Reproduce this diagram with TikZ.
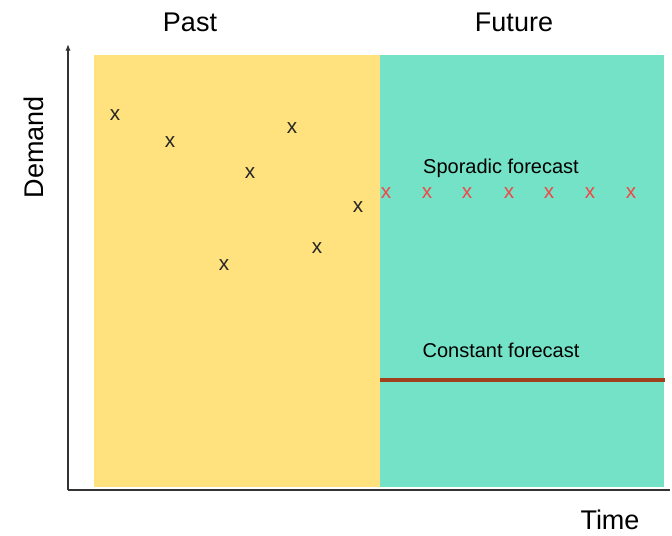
\documentclass[tikz,border=0pt]{standalone}
\usepackage{fontspec}
\setmainfont{Liberation Sans}
\usetikzlibrary{arrows.meta}
\definecolor{pastYel}{HTML}{FFE27E}
\definecolor{futGrn}{HTML}{74E2C6}
\definecolor{fcRed}{HTML}{F04848}
\definecolor{fcBrown}{HTML}{A0401C}
\tikzset{
    lbl/.style={font=\fontsize{20.25}{22}\selectfont, inner sep=0pt},
    fclbl/.style={font=\fontsize{15}{17}\selectfont, inner sep=0pt},
    obs/.style={font=\fontsize{15.5}{17}\selectfont, inner sep=0pt, text=black!85},
    fc/.style={obs, text=fcRed},
    axis/.style={line width=1.2pt, black!80}
}

\begin{document}
\begin{tikzpicture}[x=0.75pt,y=-0.75pt]
\useasboundingbox (0,0) rectangle (672,536);
\fill[pastYel] (94,55) rectangle (380,487);
\fill[futGrn] (380,55) rectangle (664,487);
\coordinate (o) at (68,490);
\coordinate (ytop) at (68,44);
\coordinate (xend) at (670,490);
\draw[axis,-{Latex[length=5pt,width=4pt]}] (o) -- (ytop);
\draw[axis] (o) -- (xend);
\node[lbl] (past) at (190,22) {Past};
\node[lbl] (future) at (514,22) {Future};
\node[lbl,rotate=90] (demand) at (34,147) {Demand};
\node[lbl] (time) at (610,520) {Time};
% past demand
\node[obs] (p1) at (115,115) {x};
\node[obs] (p2) at (170,142) {x};
\node[obs] (p3) at (224,265) {x};
\node[obs] (p4) at (250,173) {x};
\node[obs] (p5) at (292,128) {x};
\node[obs] (p6) at (317,248) {x};
\node[obs] (p7) at (358,207) {x};
% sporadic forecast
\foreach \i/\x in {1/386,2/427,3/467,4/509,5/549,6/590,7/631}
    \node[fc] (f\i) at (\x,193) {x};
\node[fclbl] (spor) at (501,168) {Sporadic forecast};
% constant forecast
\node[fclbl] (const) at (501,350) {Constant forecast};
\coordinate (c1) at (380,380);
\coordinate (c2) at (665,380);
\draw[fcBrown,line width=2.3pt] (c1) -- (c2);
\end{tikzpicture}
\end{document}
